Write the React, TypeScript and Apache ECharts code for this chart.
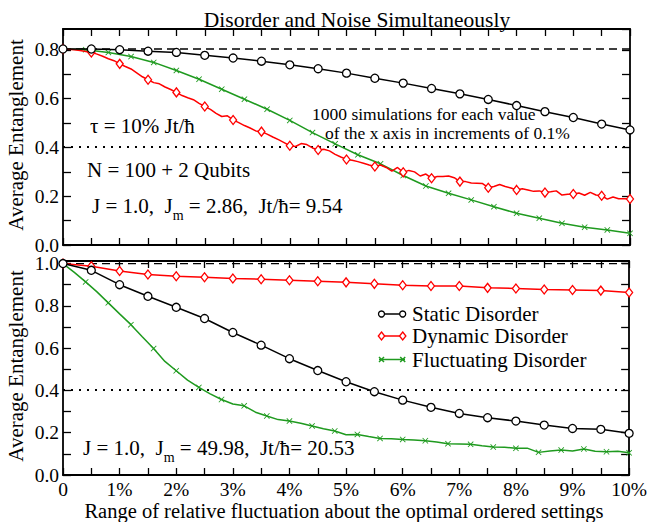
import React, { useEffect, useRef } from "react";
import * as echarts from "echarts";

const FONT = "Liberation Serif";

// ---------- data (x in %, y = average entanglement) ----------
// Top panel: N = 100 + 2 qubits
const staticTopStep = 0.5;
const staticTop = [0.804, 0.804, 0.801, 0.795, 0.79, 0.778, 0.767, 0.754, 0.739, 0.723, 0.705, 0.684, 0.664, 0.642, 0.62, 0.597, 0.572, 0.547, 0.523, 0.496, 0.472];

const dynamicTopStep = 0.1;
const dynamicTop = [
  0.804, 0.803, 0.801, 0.798, 0.794, 0.79, 0.783, 0.774, 0.764, 0.756, 0.743,
  0.732, 0.722, 0.706, 0.69, 0.678, 0.666, 0.661, 0.648, 0.638, 0.626,
  0.613, 0.604, 0.596, 0.581, 0.568, 0.556, 0.54, 0.527, 0.53, 0.513,
  0.502, 0.49, 0.48, 0.468, 0.465, 0.455, 0.443, 0.432, 0.42, 0.407,
  0.404, 0.416, 0.412, 0.398, 0.39, 0.393, 0.386, 0.372, 0.361, 0.351,
  0.348, 0.342, 0.335, 0.328, 0.322, 0.328, 0.318, 0.303, 0.318, 0.298,
  0.306, 0.3, 0.283, 0.291, 0.274, 0.281, 0.281, 0.283, 0.276, 0.26,
  0.26, 0.254, 0.253, 0.252, 0.235, 0.24, 0.248, 0.24, 0.234, 0.226,
  0.231, 0.226, 0.22, 0.222, 0.215, 0.218, 0.222, 0.205, 0.208, 0.209,
  0.213, 0.204, 0.216, 0.205, 0.202, 0.188, 0.197, 0.19, 0.19, 0.189,
];

const fluctTopStep = 0.4;
const fluctTop = [0.804, 0.801, 0.79, 0.773, 0.749, 0.716, 0.68, 0.639, 0.598, 0.557, 0.511, 0.461, 0.415, 0.37, 0.333, 0.285, 0.242, 0.212, 0.185, 0.157, 0.13, 0.11, 0.089, 0.073, 0.062, 0.048];

// Bottom panel
const staticBottomStep = 0.5;
const staticBottom = [1.0, 0.968, 0.9, 0.845, 0.793, 0.74, 0.674, 0.614, 0.55, 0.494, 0.441, 0.394, 0.354, 0.32, 0.291, 0.271, 0.255, 0.236, 0.22, 0.216, 0.197];

const dynamicBottomStep = 0.5;
const dynamicBottom = [1.0, 0.987, 0.965, 0.948, 0.94, 0.935, 0.929, 0.926, 0.921, 0.916, 0.911, 0.904, 0.897, 0.894, 0.894, 0.885, 0.882, 0.877, 0.875, 0.872, 0.863];

const fluctBottomStep = 0.2;
const fluctBottom = [
  1.0, 0.958, 0.913, 0.866, 0.814, 0.762, 0.711, 0.654, 0.598, 0.537,
  0.493, 0.449, 0.414, 0.384, 0.357, 0.336, 0.327, 0.297, 0.279, 0.262,
  0.255, 0.245, 0.232, 0.219, 0.208, 0.19, 0.192, 0.182, 0.173, 0.172,
  0.168, 0.165, 0.162, 0.156, 0.148, 0.147, 0.145, 0.138, 0.132, 0.131,
  0.126, 0.127, 0.107, 0.114, 0.118, 0.113, 0.123, 0.112, 0.11, 0.112,
  0.105,
];

// reference levels
const initialTop = 0.804;
const initialBottom = 1.0;
const halfLevel = 0.402;

const xMin = 0;
const xMax = 10;
const yMaxTop = 0.886;
const yMaxBottom = 1.012;

const seriesNames = ["Static Disorder", "Dynamic Disorder", "Fluctuating Disorder"];

const BLACK = "#000000";
const RED = "#ff0000";
const GREEN = "#1f9a1f";
const CROSS = "path://M1,0L5,4L9,0L10,1L6,5L10,9L9,10L5,6L1,10L0,9L4,5L0,1Z";

const toPoints = (vals: number[], step: number) =>
  vals.map((v, i) => [Math.round(i * step * 1000) / 1000, v]);

function buildOption() {
  const axisLine = { show: true, onZero: false, lineStyle: { color: BLACK, width: 1.8 } };
  const tickStyle = { color: BLACK, width: 1.3 };

  const xAxisBase = (gridIndex: number, position: string, labels: boolean) => ({
    type: "value",
    gridIndex,
    position,
    min: xMin,
    max: xMax,
    interval: 0.5,
    axisLine,
    axisTick: { show: true, inside: true, length: 7, lineStyle: tickStyle },
    splitLine: { show: false },
    axisLabel: labels
      ? {
          show: true,
          margin: 7.5,
          color: BLACK,
          fontFamily: FONT,
          fontSize: 19.5,
          lineHeight: 14,
          formatter: (v: number) => (Number.isInteger(v) ? (v === 0 ? "0" : v + "%") : ""),
        }
      : { show: false },
  });

  const yAxisBase = (gridIndex: number, position: string, max: number, labels: boolean) => ({
    type: "value",
    gridIndex,
    position,
    min: 0,
    max,
    interval: 0.1,
    axisLine,
    axisTick: { show: true, inside: true, length: 8, lineStyle: tickStyle },
    splitLine: { show: false },
    axisLabel: labels
      ? {
          show: true,
          margin: 4,
          color: BLACK,
          fontFamily: FONT,
          fontSize: 19.5,
          lineHeight: 14,
          showMaxLabel: false,
          formatter: (v: number) => (Math.round(v * 10) % 2 === 0 ? v.toFixed(1) : ""),
        }
      : { show: false },
  });

  const refLine = (xi: number, yi: number, level: number, dotted: boolean) => ({
    type: "line",
    xAxisIndex: xi,
    yAxisIndex: yi,
    data: [[xMin, level], [xMax, level]],
    symbol: "none",
    silent: true,
    z: 1,
    lineStyle: dotted
      ? { color: BLACK, width: 2, type: [2, 6] }
      : { color: BLACK, width: 1.3, type: [8, 5] },
  });

  const lineSeries = (
    name: string,
    xi: number,
    yi: number,
    vals: number[],
    step: number,
    every: number,
    kind: "static" | "dynamic" | "fluct"
  ) => {
    const color = kind === "static" ? BLACK : kind === "dynamic" ? RED : GREEN;
    const size = kind === "static" ? 8 : kind === "dynamic" ? [7, 9] : 6;
    return {
      type: "line",
      name,
      xAxisIndex: xi,
      yAxisIndex: yi,
      data: toPoints(vals, step),
      showAllSymbol: true,
      symbol: kind === "static" ? "circle" : kind === "dynamic" ? "diamond" : CROSS,
      symbolSize: (_v: any, p: any) => (p.dataIndex % every === 0 ? size : 0),
      lineStyle: { color, width: 1.5 },
      itemStyle:
        kind === "fluct"
          ? { color, borderWidth: 0 }
          : { color: "#ffffff", borderColor: color, borderWidth: 1.3 },
      z: kind === "static" ? 4 : kind === "dynamic" ? 3 : 2,
    };
  };

  const txt = (x: number, y: number, text: string, size = 21, extra: any = {}) => ({
    type: "text",
    x,
    y,
    silent: true,
    style: {
      text,
      fill: BLACK,
      fontFamily: FONT,
      fontSize: size,
      align: "left",
      verticalAlign: "middle",
      ...extra,
    },
  });

  const richParams = (x: number, y: number, jm: string, jt: string) => ({
    type: "text",
    x,
    y,
    silent: true,
    style: {
      text: `{a|J = 1.0,  J}{s|m}{a| = ${jm},  Jt/ħ= ${jt}}`,
      align: "left",
      verticalAlign: "middle",
      rich: {
        a: { fill: BLACK, fontFamily: FONT, fontSize: 21, lineHeight: 32, verticalAlign: "middle" },
        s: { fill: BLACK, fontFamily: FONT, fontSize: 14, lineHeight: 14, verticalAlign: "bottom" },
      },
    },
  });

  // legend graphic
  const legendRows = [314, 336, 359.5];
  const lx1 = 381.5;
  const lx2 = 402.7;
  const legendEls: any[] = [];
  legendRows.forEach((ly, i) => {
    const color = i === 0 ? BLACK : i === 1 ? RED : GREEN;
    legendEls.push({
      type: "line",
      silent: true,
      shape: { x1: 379, y1: ly, x2: 405, y2: ly },
      style: { stroke: color, lineWidth: 1.5 },
    });
    [lx1, lx2].forEach((cx) => {
      if (i === 0) {
        legendEls.push({
          type: "circle",
          silent: true,
          shape: { cx, cy: ly, r: 3 },
          style: { fill: "#fff", stroke: BLACK, lineWidth: 1.3 },
        });
      } else if (i === 1) {
        legendEls.push({
          type: "polygon",
          silent: true,
          shape: { points: [[cx, ly - 4], [cx + 3.2, ly], [cx, ly + 4], [cx - 3.2, ly]] },
          style: { fill: "#fff", stroke: RED, lineWidth: 1.3 },
        });
      } else {
        legendEls.push({
          type: "line",
          silent: true,
          shape: { x1: cx - 2.5, y1: ly - 2.5, x2: cx + 2.5, y2: ly + 2.5 },
          style: { stroke: GREEN, lineWidth: 1.5 },
        });
        legendEls.push({
          type: "line",
          silent: true,
          shape: { x1: cx - 2.5, y1: ly + 2.5, x2: cx + 2.5, y2: ly - 2.5 },
          style: { stroke: GREEN, lineWidth: 1.5 },
        });
      }
    });
    legendEls.push(txt(412, ly, seriesNames[i], 21, { lineHeight: 18 }));
  });

  return {
    animation: false,
    backgroundColor: "#ffffff",
    grid: [
      { left: 63, top: 29, width: 567, height: 216, show: false },
      { left: 63, top: 261, width: 567, height: 214, show: false },
    ],
    xAxis: [
      xAxisBase(0, "bottom", false),
      xAxisBase(0, "top", false),
      xAxisBase(1, "bottom", true),
      xAxisBase(1, "top", false),
    ],
    yAxis: [
      yAxisBase(0, "left", yMaxTop, true),
      yAxisBase(0, "right", yMaxTop, false),
      yAxisBase(1, "left", yMaxBottom, true),
      yAxisBase(1, "right", yMaxBottom, false),
    ],
    series: [
      refLine(0, 0, initialTop, false),
      refLine(0, 0, halfLevel, true),
      refLine(2, 2, initialBottom, false),
      refLine(2, 2, halfLevel, true),
      lineSeries(seriesNames[0], 0, 0, staticTop, staticTopStep, 1, "static"),
      lineSeries(seriesNames[1], 0, 0, dynamicTop, dynamicTopStep, 5, "dynamic"),
      lineSeries(seriesNames[2], 0, 0, fluctTop, fluctTopStep, 1, "fluct"),
      lineSeries(seriesNames[0], 2, 2, staticBottom, staticBottomStep, 1, "static"),
      lineSeries(seriesNames[1], 2, 2, dynamicBottom, dynamicBottomStep, 1, "dynamic"),
      lineSeries(seriesNames[2], 2, 2, fluctBottom, fluctBottomStep, 2, "fluct"),
    ],
    graphic: [
      txt(357, 20, "Disorder and Noise Simultaneously", 21.5, { align: "center", lineHeight: 20 }),
      {
        type: "text",
        x: 16,
        y: 135,
        rotation: Math.PI / 2,
        silent: true,
        style: { text: "Average Entanglement", fill: BLACK, fontFamily: FONT, fontSize: 21, align: "center", verticalAlign: "middle" },
      },
      {
        type: "text",
        x: 16,
        y: 366,
        rotation: Math.PI / 2,
        silent: true,
        style: { text: "Average Entanglement", fill: BLACK, fontFamily: FONT, fontSize: 21, align: "center", verticalAlign: "middle" },
      },
      txt(344, 511, "Range of relative fluctuation about the optimal ordered settings", 20.5, { align: "center", lineHeight: 18 }),
      txt(90, 126, "τ = 10% Jt/ħ", 21),
      txt(87, 170, "N = 100 + 2 Qubits", 21),
      richParams(92, 206, "2.86", "9.54"),
      richParams(83, 448, "49.98", "20.53"),
      txt(312, 114, "1000 simulations for each value", 17.5, { lineHeight: 15 }),
      txt(325, 132.5, "of the x axis in increments of 0.1%", 17.5, { lineHeight: 15 }),
      ...legendEls,
    ],
  };
}

export default function App() {
  const ref = useRef<HTMLDivElement>(null);
  useEffect(() => {
    if (!ref.current) return;
    const chart = echarts.init(ref.current, undefined, { renderer: "svg" });
    chart.setOption(buildOption() as any);
    return () => chart.dispose();
  }, []);
  return (
    <div
      ref={ref}
      style={{ position: "absolute", left: 0, top: 0, width: 650, height: 522, background: "#fff" }}
    />
  );
}
